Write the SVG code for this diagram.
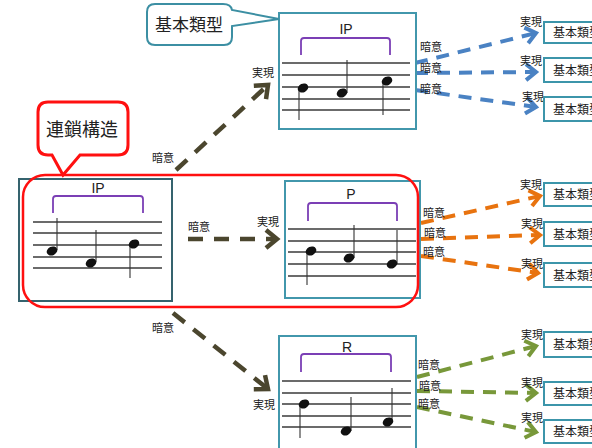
<svg xmlns="http://www.w3.org/2000/svg" width="592" height="448" viewBox="0 0 592 448">
<defs>
<style>
.box{fill:#fff;stroke:#4297AC;stroke-width:2}
.boxd{fill:#fff;stroke:#35636E;stroke-width:2}
.staff{stroke:#3a3a3a;stroke-width:1.3}
.stem{stroke:#333;stroke-width:1.1}
.head{fill:#111}
.br{fill:none;stroke:#7B3FB5;stroke-width:1.8}
.lbl{font-family:"Liberation Sans","Noto Sans",sans-serif;font-size:14px;fill:#222;text-anchor:middle}
.jp{font-family:"Noto Sans CJK JP",sans-serif;font-size:11px;fill:#222}
.sb{fill:#fff;stroke:#3C95AA;stroke-width:2}
.sbt{font-family:"Noto Sans CJK JP",sans-serif;font-size:12px;fill:#222}
.dm{fill:none;stroke:#4B462E;stroke-width:4.5;stroke-dasharray:15 11}
.db{fill:none;stroke:#4A82C3;stroke-width:4;stroke-dasharray:13 9}
.do{fill:none;stroke:#E8730F;stroke-width:4;stroke-dasharray:13 9}
.dg{fill:none;stroke:#78983A;stroke-width:4;stroke-dasharray:13 9}
</style>
<marker id="am" markerUnits="userSpaceOnUse" viewBox="-14 -12 16 24" markerWidth="16" markerHeight="24" refX="0" refY="0" orient="auto" overflow="visible"><path d="M-11,-9 L0,0 L-11,9" fill="none" stroke="#4B462E" stroke-width="4.5"/></marker>
<marker id="ab" markerUnits="userSpaceOnUse" viewBox="-14 -12 16 24" markerWidth="16" markerHeight="24" refX="0" refY="0" orient="auto" overflow="visible"><path d="M-10,-8 L0,0 L-10,8" fill="none" stroke="#4A82C3" stroke-width="4"/></marker>
<marker id="ao" markerUnits="userSpaceOnUse" viewBox="-14 -12 16 24" markerWidth="16" markerHeight="24" refX="0" refY="0" orient="auto" overflow="visible"><path d="M-10,-8 L0,0 L-10,8" fill="none" stroke="#E8730F" stroke-width="4"/></marker>
<marker id="ag" markerUnits="userSpaceOnUse" viewBox="-14 -12 16 24" markerWidth="16" markerHeight="24" refX="0" refY="0" orient="auto" overflow="visible"><path d="M-10,-8 L0,0 L-10,8" fill="none" stroke="#78983A" stroke-width="4"/></marker>
</defs>
<rect width="592" height="448" fill="#fff"/>

<g id="connectors">
<line class="dm" x1="176" y1="170" x2="268" y2="85" marker-end="url(#am)"/>
<line class="dm" x1="188" y1="239" x2="277" y2="239" marker-end="url(#am)"/>
<line class="dm" x1="173" y1="313" x2="268" y2="389" marker-end="url(#am)"/>
<line class="db" x1="415" y1="63" x2="536" y2="33" marker-end="url(#ab)"/>
<line class="db" x1="415" y1="73" x2="536" y2="72" marker-end="url(#ab)"/>
<line class="db" x1="415" y1="90" x2="536" y2="107" marker-end="url(#ab)"/>
<line class="do" x1="421" y1="223" x2="540" y2="196" marker-end="url(#ao)"/>
<line class="do" x1="421" y1="239" x2="540" y2="235" marker-end="url(#ao)"/>
<line class="do" x1="421" y1="256" x2="538" y2="273" marker-end="url(#ao)"/>
<line class="dg" x1="417" y1="377" x2="536" y2="346" marker-end="url(#ag)"/>
<line class="dg" x1="417" y1="391" x2="536" y2="393" marker-end="url(#ag)"/>
<line class="dg" x1="417" y1="407" x2="536" y2="432" marker-end="url(#ag)"/>
<text class="jp" x="152" y="162">暗意</text>
<text class="jp" x="252" y="77">実現</text>
<text class="jp" x="188" y="231">暗意</text>
<text class="jp" x="257" y="226">実現</text>
<text class="jp" x="152" y="332">暗意</text>
<text class="jp" x="253" y="409">実現</text>
<text class="jp" x="420" y="51">暗意</text>
<text class="jp" x="420" y="72">暗意</text>
<text class="jp" x="420" y="93">暗意</text>
<text class="jp" x="520" y="26">実現</text>
<text class="jp" x="520" y="65">実現</text>
<text class="jp" x="522" y="101">実現</text>
<text class="jp" x="423" y="217">暗意</text>
<text class="jp" x="424" y="237">暗意</text>
<text class="jp" x="423" y="256">暗意</text>
<text class="jp" x="520" y="189">実現</text>
<text class="jp" x="521" y="228">実現</text>
<text class="jp" x="521" y="268">実現</text>
<text class="jp" x="418" y="369">暗意</text>
<text class="jp" x="419" y="390">暗意</text>
<text class="jp" x="418" y="408">暗意</text>
<text class="jp" x="521" y="339">実現</text>
<text class="jp" x="521" y="387">実現</text>
<text class="jp" x="521" y="422">実現</text>
</g>

<g id="node-ip-top">
<rect class="box" x="279" y="13" width="137" height="116"/>
<text class="lbl" x="346" y="34">IP</text>
<path class="br" d="M301,55 V41 Q301,38 304,38 H387 Q390,38 390,41 V55"/>
<g class="staff"><line x1="282" y1="63" x2="410" y2="63"/><line x1="282" y1="75" x2="410" y2="75"/><line x1="282" y1="87" x2="410" y2="87"/><line x1="282" y1="99" x2="410" y2="99"/><line x1="282" y1="110" x2="410" y2="110"/></g>
<line class="stem" x1="299" y1="88" x2="299" y2="120"/>
<line class="stem" x1="347" y1="93" x2="347" y2="60"/>
<line class="stem" x1="383" y1="81" x2="383" y2="115"/>
<ellipse class="head" cx="303" cy="88" rx="5.5" ry="4.3" transform="rotate(-25 303 88)"/>
<ellipse class="head" cx="342" cy="93" rx="5.5" ry="4.3" transform="rotate(-25 342 93)"/>
<ellipse class="head" cx="387" cy="81" rx="5.5" ry="4.3" transform="rotate(-25 387 81)"/>
</g>

<g id="node-ip-left">
<rect class="boxd" x="19" y="179" width="153" height="122"/>
<text class="lbl" x="98" y="193">IP</text>
<path class="br" d="M53,213 V199 Q53,196 56,196 H140 Q143,196 143,199 V213"/>
<g class="staff"><line x1="33" y1="222" x2="162" y2="222"/><line x1="33" y1="233" x2="162" y2="233"/><line x1="33" y1="245" x2="162" y2="245"/><line x1="33" y1="257" x2="162" y2="257"/><line x1="33" y1="268" x2="162" y2="268"/></g>
<line class="stem" x1="57" y1="250" x2="57" y2="218"/>
<line class="stem" x1="96" y1="262" x2="96" y2="230"/>
<line class="stem" x1="130" y1="244" x2="130" y2="278"/>
<ellipse class="head" cx="52" cy="251" rx="5.5" ry="4.3" transform="rotate(-25 52 251)"/>
<ellipse class="head" cx="91" cy="263" rx="5.5" ry="4.3" transform="rotate(-25 91 263)"/>
<ellipse class="head" cx="134" cy="244" rx="5.5" ry="4.3" transform="rotate(-25 134 244)"/>
</g>

<g id="node-p">
<rect class="box" x="285" y="181" width="135" height="117"/>
<text class="lbl" x="351" y="199">P</text>
<path class="br" d="M308,221 V206 Q308,203 311,203 H394 Q397,203 397,206 V221"/>
<g class="staff"><line x1="288" y1="229" x2="416" y2="229"/><line x1="288" y1="241" x2="416" y2="241"/><line x1="288" y1="252" x2="416" y2="252"/><line x1="288" y1="264" x2="416" y2="264"/><line x1="288" y1="276" x2="416" y2="276"/></g>
<line class="stem" x1="307" y1="251" x2="307" y2="285"/>
<line class="stem" x1="354" y1="258" x2="354" y2="225"/>
<line class="stem" x1="397" y1="264" x2="397" y2="230"/>
<ellipse class="head" cx="311" cy="251" rx="5.5" ry="4.3" transform="rotate(-25 311 251)"/>
<ellipse class="head" cx="349" cy="258" rx="5.5" ry="4.3" transform="rotate(-25 349 258)"/>
<ellipse class="head" cx="392" cy="264" rx="5.5" ry="4.3" transform="rotate(-25 392 264)"/>
</g>

<g id="node-r">
<rect class="box" x="279" y="336" width="137" height="124"/>
<text class="lbl" x="347" y="352">R</text>
<path class="br" d="M301,372 V357 Q301,354 304,354 H388 Q391,354 391,357 V372"/>
<g class="staff"><line x1="282" y1="381" x2="411" y2="381"/><line x1="282" y1="393" x2="411" y2="393"/><line x1="282" y1="404" x2="411" y2="404"/><line x1="282" y1="416" x2="411" y2="416"/><line x1="282" y1="427" x2="411" y2="427"/></g>
<line class="stem" x1="300" y1="404" x2="300" y2="438"/>
<line class="stem" x1="351" y1="431" x2="351" y2="397"/>
<line class="stem" x1="392" y1="422" x2="392" y2="388"/>
<ellipse class="head" cx="304" cy="404" rx="5.5" ry="4.3" transform="rotate(-25 304 404)"/>
<ellipse class="head" cx="346" cy="431" rx="5.5" ry="4.3" transform="rotate(-25 346 431)"/>
<ellipse class="head" cx="388" cy="422" rx="5.5" ry="4.3" transform="rotate(-25 388 422)"/>
</g>

<g id="chain-frame">
<rect x="23" y="175" width="395" height="132" rx="22" fill="none" stroke="#FF1010" stroke-width="2.5"/>
</g>

<g id="callout-chain">
<path d="M48,102 H118 Q128,102 128,112 V145 Q128,155 118,155 H80 L63,175 L52,155 H48 Q38,155 38,145 V112 Q38,102 48,102 Z" fill="#fff" stroke="#FF1010" stroke-width="3"/>
<text x="82" y="136" font-family="Noto Sans CJK JP, sans-serif" font-size="18" fill="#222" text-anchor="middle">連鎖構造</text>
</g>

<g id="callout-basic">
<path d="M155,4 H223 Q231,4 232,10 L279,19 L232,26 V37 Q232,45 224,45 H155 Q147,45 147,37 V12 Q147,4 155,4 Z" fill="#fff" stroke="#3C8FA3" stroke-width="2"/>
<text x="189" y="31" font-family="Noto Sans CJK JP, sans-serif" font-size="17" fill="#222" text-anchor="middle">基本類型</text>
</g>

<g id="node-b1"><rect class="sb" x="544" y="22" width="70" height="21"/><text class="sbt" x="553" y="37">基本類型</text></g>
<g id="node-b2"><rect class="sb" x="544" y="58" width="70" height="24"/><text class="sbt" x="553" y="75">基本類型</text></g>
<g id="node-b3"><rect class="sb" x="544" y="97" width="70" height="24"/><text class="sbt" x="553" y="114">基本類型</text></g>
<g id="node-o1"><rect class="sb" x="544" y="183" width="70" height="23"/><text class="sbt" x="553" y="199">基本類型</text></g>
<g id="node-o2"><rect class="sb" x="544" y="222" width="70" height="24"/><text class="sbt" x="553" y="239">基本類型</text></g>
<g id="node-o3"><rect class="sb" x="544" y="263" width="70" height="24"/><text class="sbt" x="553" y="280">基本類型</text></g>
<g id="node-g1"><rect class="sb" x="544" y="332" width="70" height="25"/><text class="sbt" x="553" y="349">基本類型</text></g>
<g id="node-g2"><rect class="sb" x="544" y="382" width="70" height="23"/><text class="sbt" x="553" y="398">基本類型</text></g>
<g id="node-g3"><rect class="sb" x="544" y="420" width="70" height="23"/><text class="sbt" x="553" y="436">基本類型</text></g>
</svg>
